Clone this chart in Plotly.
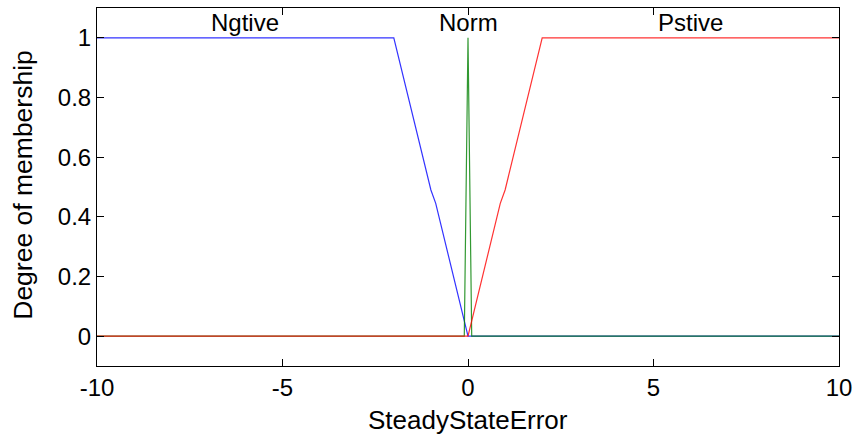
import plotly.graph_objects as go

# Membership functions
ngtive_x = [-10, -2, -1.0, -0.87, 0, 10]
ngtive_y = [1, 1, 0.49, 0.445, 0, 0]

norm_x = [-10, -0.1, 0, 0.1, 10]
norm_y = [0, 0, 1, 0, 0]

pstive_x = [-10, 0, 0.87, 1.0, 2, 10]
pstive_y = [0, 0, 0.445, 0.49, 1, 1]

mf_names = ["Ngtive", "Norm", "Pstive"]
mf_label_x = [-6, 0, 6]
mf_label_y = 1.05

x_ticks = [-10, -5, 0, 5, 10]
y_ticks = [0, 0.2, 0.4, 0.6, 0.8, 1]

x_title = "SteadyStateError"
y_title = "Degree of membership"

FONT = "Liberation Sans, Arial, sans-serif"

fig = go.Figure()
fig.add_trace(go.Scatter(x=ngtive_x, y=ngtive_y, mode="lines", name="Ngtive",
                         line=dict(color="rgb(0,0,255)", width=1.2), opacity=0.8))
fig.add_trace(go.Scatter(x=norm_x, y=norm_y, mode="lines", name="Norm",
                         line=dict(color="rgb(0,128,0)", width=1.2), opacity=0.8))
fig.add_trace(go.Scatter(x=pstive_x, y=pstive_y, mode="lines", name="Pstive",
                         line=dict(color="rgb(255,0,0)", width=1.2), opacity=0.8))

for name, lx in zip(mf_names, mf_label_x):
    fig.add_annotation(x=lx, y=mf_label_y, xref="x", yref="y", text=name,
                       showarrow=False, font=dict(size=24, color="black", family=FONT),
                       xanchor="center", yanchor="middle")

# axis titles placed in paper coordinates
fig.add_annotation(x=0.5, y=-0.15, xref="paper", yref="paper", text=x_title,
                   showarrow=False, font=dict(size=26, color="black", family=FONT),
                   xanchor="center", yanchor="middle")
fig.add_annotation(x=-0.099, y=0.505, xref="paper", yref="paper", text=y_title,
                   showarrow=False, textangle=-90,
                   font=dict(size=26.5, color="black", family=FONT),
                   xanchor="center", yanchor="middle")

fig.update_layout(
    width=856, height=437,
    margin=dict(l=97, r=17, t=8, b=71),
    paper_bgcolor="white", plot_bgcolor="white",
    showlegend=False, hovermode=False,
    font=dict(family=FONT, size=24, color="black"),
)
fig.update_xaxes(
    range=[-10, 10], tickvals=x_ticks, ticktext=[str(v) for v in x_ticks],
    ticks="inside", ticklen=7, tickcolor="black", mirror="allticks",
    showline=True, linecolor="black", linewidth=1, showgrid=False, zeroline=False,
    tickfont=dict(size=24, family=FONT), automargin=False,
)
fig.update_yaxes(
    range=[-0.1, 1.1], tickvals=y_ticks, ticktext=["0", "0.2", "0.4", "0.6", "0.8", "1"],
    ticks="inside", ticklen=7, tickcolor="black", mirror="allticks",
    showline=True, linecolor="black", linewidth=1, showgrid=False, zeroline=False,
    tickfont=dict(size=24, family=FONT), automargin=False,
)

# remove the browser's default 8px body margin so the figure fills the window
fig.write_html(
    "out.html",
    config={"displayModeBar": False},
    post_script="document.body.style.margin='0';document.body.style.overflow='hidden';",
)
